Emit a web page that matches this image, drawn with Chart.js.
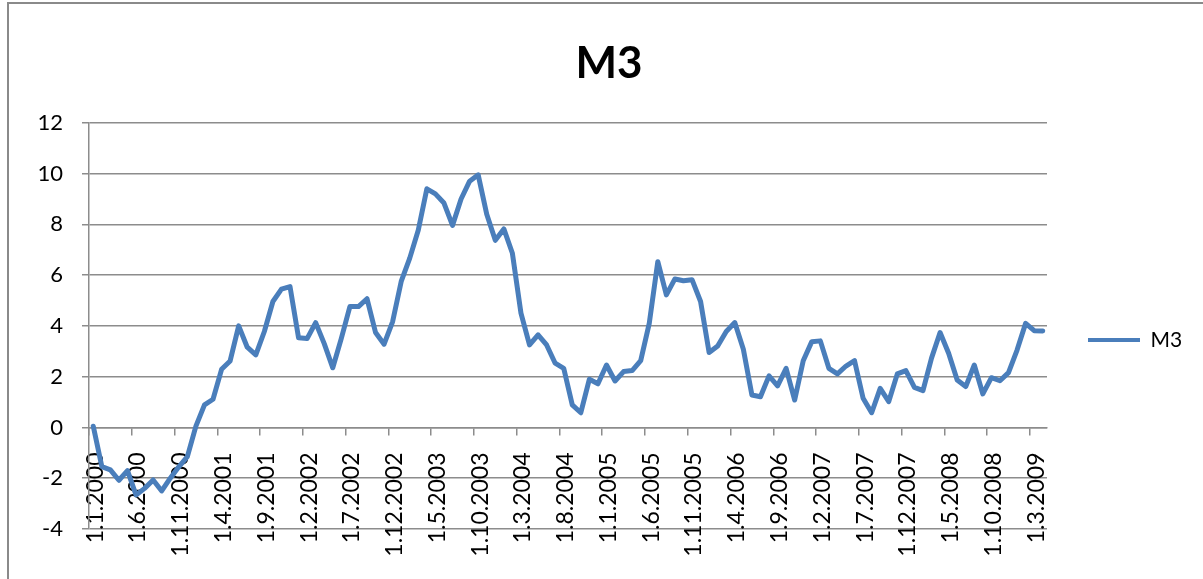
<!DOCTYPE html>
<html><head><meta charset="utf-8">
<script src="https://cdn.jsdelivr.net/npm/chart.js@4.4.0/dist/chart.umd.min.js"></script>
<style>
html,body{margin:0;padding:0;background:#fff;}
#wrap{position:relative;width:1203px;height:579px;overflow:hidden;background:#fff;}
#frame{position:absolute;left:7px;top:2px;width:1400px;height:800px;border-left:2px solid #8a8a8a;border-top:2px solid #8a8a8a;}
canvas{position:absolute;left:0;top:0;}
</style></head><body>
<div id="wrap"><div id="frame"></div><canvas id="c" width="1203" height="579"></canvas></div>
<script>
// ---- data ----
const seriesName = 'M3';
const chartTitle = 'M3';
const startYear = 2000;
const startMonth = 1;
const monthCount = 112;
const categories = [];
for (let k = 0; k < monthCount; k++) {
  const m = (startMonth - 1 + k) % 12 + 1;
  const y = startYear + Math.floor((startMonth - 1 + k) / 12);
  categories.push('1.' + m + '.' + y);
}
const m3Values = [
  0.05, -1.54, -1.67, -2.08, -1.70, -2.66, -2.40, -2.07, -2.50, -2.00,
  -1.55, -1.15, 0.05, 0.89, 1.11, 2.29, 2.62, 4.00, 3.16, 2.86,
  3.78, 4.96, 5.45, 5.55, 3.53, 3.50, 4.13, 3.30, 2.35, 3.51,
  4.76, 4.76, 5.07, 3.74, 3.28, 4.17, 5.75, 6.67, 7.78, 9.40,
  9.20, 8.84, 7.96, 9.00, 9.70, 9.95, 8.40, 7.37, 7.82, 6.86,
  4.50, 3.25, 3.65, 3.25, 2.53, 2.33, 0.89, 0.58, 1.90, 1.72,
  2.46, 1.83, 2.20, 2.24, 2.63, 4.10, 6.53, 5.22, 5.85, 5.78,
  5.82, 4.96, 2.95, 3.21, 3.78, 4.13, 3.08, 1.28, 1.21, 2.03,
  1.64, 2.33, 1.08, 2.63, 3.38, 3.41, 2.33, 2.11, 2.42, 2.63,
  1.15, 0.58, 1.54, 1.02, 2.11, 2.24, 1.58, 1.45, 2.73, 3.74,
  2.92, 1.87, 1.61, 2.46, 1.32, 1.96, 1.84, 2.16, 3.05, 4.10,
  3.81, 3.80
];
const yMin = -4;
const yMax = 12;
const yStep = 2;
const labelEvery = 5;

// ---- styles ----
const lineColor = '#4A7EBB';
const gridColor = '#8c8c8c';
const fontFamily = 'Lato, "Open Sans", sans-serif';

const layoutFix = {
  id: 'layoutFix',
  beforeLayout(chart) {
    const lg = chart.legend;
    if (lg && !lg._patched) {
      const f = lg.fit;
      lg.fit = function () { f.call(this); this.width = 156; };
      lg._patched = true;
    }
  },
  afterLayout(chart) {
    const lg = chart.legend;
    if (lg) { lg.top += 14; lg.bottom += 14; }
  }
};

new Chart(document.getElementById('c'), {
  type: 'line',
  data: {
    labels: categories,
    datasets: [{
      label: seriesName,
      data: m3Values,
      borderColor: lineColor,
      backgroundColor: lineColor,
      borderWidth: 5,
      pointRadius: 0,
      pointHoverRadius: 0,
      tension: 0,
      fill: false,
      borderJoinStyle: 'round',
      borderCapStyle: 'round'
    }]
  },
  options: {
    responsive: false,
    animation: false,
    devicePixelRatio: 1,
    layout: { padding: { left: 15, top: 0, right: 0, bottom: 50 } },
    plugins: {
      title: {
        display: true, text: chartTitle, color: '#000',
        font: { family: fontFamily, size: 44, weight: 'bold' },
        padding: { top: 37, bottom: 33 }
      },
      legend: {
        display: true, position: 'right', fullSize: false,
        labels: {
          boxWidth: 52, boxHeight: 4, padding: 41, color: '#000',
          font: { family: fontFamily, size: 21 },
          generateLabels: (chart) => Chart.defaults.plugins.legend.labels.generateLabels(chart)
            .map(l => Object.assign({}, l, { lineWidth: 0, fillStyle: lineColor }))
        }
      },
      tooltip: { enabled: false }
    },
    scales: {
      x: {
        type: 'category',
        position: { y: 0 },
        offset: true,
        grid: {
          offset: true, drawOnChartArea: false, drawTicks: true, tickLength: 7, lineWidth: 1.5,
          tickColor: (c) => (c.index % labelEvery === 0 ? gridColor : 'rgba(0,0,0,0)')
        },
        border: { display: true, color: gridColor, width: 1.5 },
        ticks: {
          autoSkip: false, maxRotation: 90, minRotation: 90, padding: 18, labelOffset: 2,
          color: '#000', font: { family: fontFamily, size: 23 },
          callback: function (v, i) { return i % labelEvery === 0 ? this.getLabelForValue(v) : ''; }
        }
      },
      y: {
        min: yMin, max: yMax,
        ticks: { stepSize: yStep, padding: 19, color: '#000', font: { family: fontFamily, size: 22 } },
        grid: { color: gridColor, lineWidth: 1.5, tickLength: 7, drawTicks: true },
        border: { display: true, color: gridColor, width: 1.5 },
        afterFit: (s) => { s.width = 74; }
      }
    }
  },
  plugins: [layoutFix]
});
</script>
</body></html>
